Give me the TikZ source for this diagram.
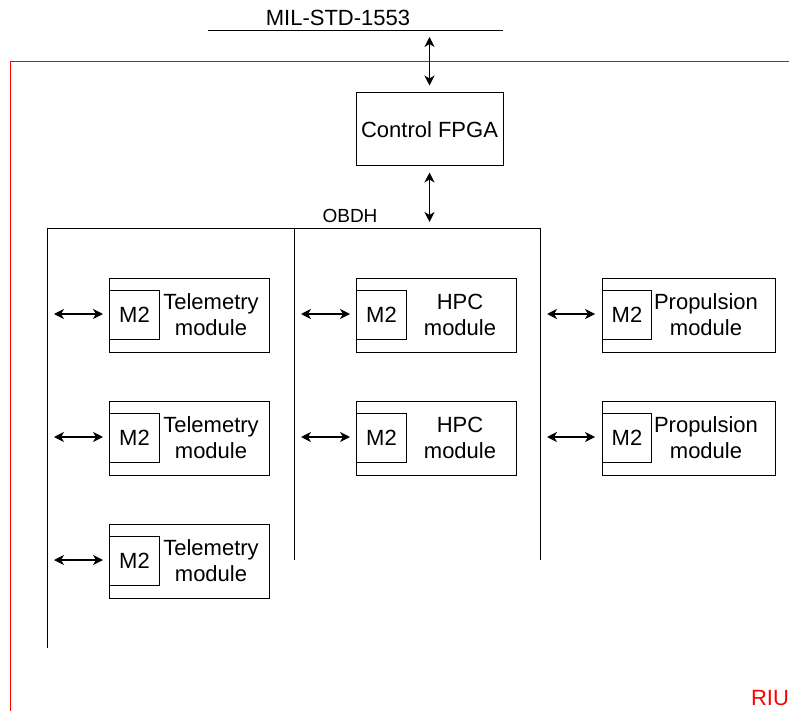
\documentclass[tikz,border=0pt]{standalone}
\usepackage{fontspec}
\setmainfont{Liberation Sans}
\usetikzlibrary{arrows.meta,calc}
\begin{document}
\begin{tikzpicture}[x=1pt,y=-1pt,line width=1pt,
  every node/.style={font=\fontsize{22}{26}\selectfont},
  modbox/.style={draw,rectangle,minimum width=160pt,minimum height=74pt,inner sep=0pt,anchor=north west},
  mbox/.style={draw,rectangle,minimum width=50pt,minimum height=49pt,inner sep=0pt,anchor=north west},
  lbl/.style={align=center,inner sep=0pt},
  bus/.style={line width=1pt},
  riu/.style={draw=red,line width=1pt},
  link/.style={line width=1.3pt,{Stealth[length=10pt,width=10pt,inset=3pt]}-{Stealth[length=10pt,width=10pt,inset=3pt]}},
  ]
\useasboundingbox (0,0) rectangle (789,711);
% RIU frame
\coordinate (rtl) at (10,62);
\coordinate (rtr) at (789,62);
\coordinate (rbl) at (10,711);
\draw[riu] (rtr) -- (rtl) -- (rbl);
\node[text=red,inner sep=0pt] (riutxt) at (770,698) {RIU};
% MIL-STD bus
\coordinate (mil1) at (208,31);
\coordinate (mil2) at (503,31);
\draw[bus] (mil1) -- (mil2);
\node[inner sep=0pt] (miltxt) at (338,18) {MIL-STD-1553};
\coordinate (milc) at (429.5,31);
% FPGA
\node[draw,rectangle,minimum width=147pt,minimum height=73pt,inner sep=0pt] (fpga) at (429.5,129.5) {Control FPGA};
\draw[link,shorten <=6pt,shorten >=7pt] (milc) -- (fpga.north);
% OBDH bus
\coordinate (obl) at (47,229);
\coordinate (obm) at (294,229);
\coordinate (obr) at (540,229);
\coordinate (obc) at (429.5,229);
\coordinate (vl) at (47,648);
\coordinate (vm) at (294,560);
\coordinate (vr) at (540,560);
\draw[bus] (vl) -- (obl) -- (obr) -- (vr);
\draw[bus] (obm) -- (vm);
\node[inner sep=0pt,font=\fontsize{19}{22}\selectfont] (obdh) at (350,216) {OBDH};
\draw[link,shorten <=6pt,shorten >=7pt] (fpga.south) -- (obc);
% Telemetry column
\foreach \i/\y in {1/278,2/401,3/524}{
  \node[modbox] (tm\i) at (109,\y) {};
  \node[mbox] (tmm\i) at (109,\y+12) {M2};
  \node[lbl] (tmt\i) at (211,\y+37) {Telemetry\\module};
  \coordinate (tb\i) at (47,\y+36);
  \draw[link,shorten <=7pt,shorten >=6pt] (tb\i) -- (tmm\i.west |- tb\i);
}
% HPC column
\foreach \i/\y in {1/278,2/401}{
  \node[modbox] (hp\i) at (356,\y) {};
  \node[mbox] (hpm\i) at (356,\y+12) {M2};
  \node[lbl] (hpt\i) at (460,\y+37) {HPC\\module};
  \coordinate (hb\i) at (294,\y+36);
  \draw[link,shorten <=7pt,shorten >=6pt] (hb\i) -- (hpm\i.west |- hb\i);
}
% Propulsion column
\foreach \i/\y in {1/278,2/401}{
  \node[modbox,minimum width=173pt] (pr\i) at (602,\y) {};
  \node[mbox,minimum width=49pt] (prm\i) at (602,\y+12) {M2};
  \node[lbl] (prt\i) at (706,\y+37) {Propulsion\\module};
  \coordinate (pb\i) at (540,\y+36);
  \draw[link,shorten <=7pt,shorten >=7pt] (pb\i) -- (prm\i.west |- pb\i);
}
\end{tikzpicture}
\end{document}
